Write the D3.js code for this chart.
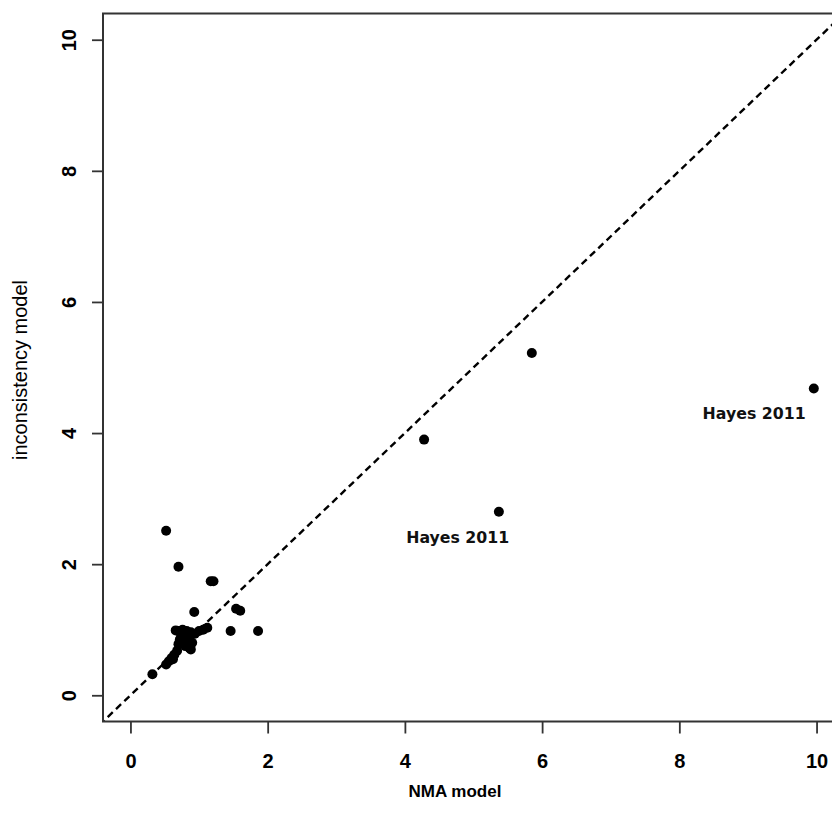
<!DOCTYPE html>
<html>
<head>
<meta charset="utf-8">
<script src="https://cdn.jsdelivr.net/npm/d3@7"></script>
<style>
  html, body { margin: 0; padding: 0; background: #fff; }
  svg { display: block; }
</style>
</head>
<body>
<svg id="chart" width="832" height="821"></svg>
<script>
// Study-level estimates: NMA model (x) vs inconsistency model (y)
const nmaEstimate = [
  0.32, 0.52, 0.56, 0.60, 0.64, 0.68, 0.70, 0.72, 0.76, 0.80,
  0.86, 0.88, 0.78, 0.70, 0.76, 0.82, 0.88, 0.94, 1.00, 1.06,
  1.12, 0.74, 0.84, 0.80, 0.90, 0.84, 0.66, 0.62,
  0.93, 1.17, 1.21, 1.54, 1.60, 1.46, 1.86, 0.52, 0.70,
  4.28, 5.85, 5.37, 9.96
];
const inconsistencyEstimate = [
  0.32, 0.47, 0.52, 0.57, 0.62, 0.68, 0.78, 0.85, 0.82, 0.75,
  0.72, 0.70, 0.90, 0.98, 1.00, 0.98, 0.96, 0.94, 0.98, 1.00,
  1.03, 0.92, 0.86, 0.80, 0.80, 0.76, 0.99, 0.55,
  1.27, 1.74, 1.74, 1.32, 1.29, 0.98, 0.98, 2.51, 1.96,
  3.90, 5.22, 2.80, 4.68
];

// Annotations for the outlying studies
const labelText = ["Hayes 2011", "Hayes 2011"];
const labelX = [4.77, 9.09];
const labelY = [2.32, 4.21];

const xTicks = [0, 2, 4, 6, 8, 10];
const yTicks = [0, 2, 4, 6, 8, 10];
const axisRange = [-0.4, 10.4];

const svg = d3.select("#chart");
svg.append("rect").attr("width", 832).attr("height", 821).attr("fill", "#fff");

const x = d3.scaleLinear().domain(axisRange).range([103, 844]);
const y = d3.scaleLinear().domain(axisRange).range([721.5, 13.5]);

const boxX = x(axisRange[0]), boxY = y(axisRange[1]);
const boxW = x(axisRange[1]) - boxX, boxH = y(axisRange[0]) - boxY;

svg.append("defs").append("clipPath").attr("id", "plotClip")
  .append("rect").attr("x", boxX).attr("y", boxY).attr("width", boxW).attr("height", boxH);

// Line of equality
svg.append("g").attr("clip-path", "url(#plotClip)")
  .append("line")
  .attr("x1", x(axisRange[0])).attr("y1", y(axisRange[0]))
  .attr("x2", x(axisRange[1])).attr("y2", y(axisRange[1]))
  .attr("stroke", "#000").attr("stroke-width", 2.4)
  .attr("stroke-dasharray", "7,4.5")
  .attr("stroke-dashoffset", 5);

// Points
svg.append("g").selectAll("circle")
  .data(nmaEstimate.map((v, i) => [v, inconsistencyEstimate[i]]))
  .join("circle")
  .attr("cx", d => x(d[0])).attr("cy", d => y(d[1]))
  .attr("r", 5).attr("fill", "#000");

// Study labels
svg.append("g").selectAll("text")
  .data(labelText.map((t, i) => ({ t, x: labelX[i], y: labelY[i] })))
  .join("text")
  .attr("x", d => x(d.x)).attr("y", d => y(d.y))
  .attr("text-anchor", "middle")
  .attr("font-family", "'DejaVu Sans', Verdana, sans-serif")
  .attr("font-weight", "bold").attr("font-size", 16)
  .attr("textLength", 103).attr("lengthAdjust", "spacingAndGlyphs")
  .attr("fill", "#111")
  .text(d => d.t);

// Plot frame
svg.append("rect")
  .attr("x", boxX).attr("y", boxY).attr("width", boxW).attr("height", boxH)
  .attr("fill", "none").attr("stroke", "#333").attr("stroke-width", 2);

const tickFont = "'Liberation Sans', Arial, sans-serif";

// X axis
const gx = svg.append("g").attr("transform", `translate(0,${boxY + boxH})`)
  .call(d3.axisBottom(x).tickValues(xTicks).tickSize(12).tickPadding(20).tickFormat(d3.format("d")));
gx.select(".domain").remove();
gx.selectAll(".tick line").attr("stroke", "#333").attr("stroke-width", 1.8);
gx.selectAll(".tick text")
  .attr("font-family", tickFont).attr("font-weight", "bold").attr("font-size", 20).attr("fill", "#000");

// Y axis, labels parallel to the axis
const gy = svg.append("g").attr("transform", `translate(${boxX},0)`)
  .call(d3.axisLeft(y).tickValues(yTicks).tickSize(11).tickFormat(d3.format("d")));
gy.select(".domain").remove();
gy.selectAll(".tick line").attr("stroke", "#333").attr("stroke-width", 1.8);
gy.selectAll(".tick text")
  .attr("transform", "rotate(-90)")
  .attr("x", 0).attr("y", -27).attr("dy", 0)
  .attr("text-anchor", "middle")
  .attr("font-family", tickFont).attr("font-weight", "bold").attr("font-size", 20).attr("fill", "#000");

// Axis titles
svg.append("text")
  .attr("x", 455).attr("y", 797)
  .attr("text-anchor", "middle")
  .attr("font-family", tickFont).attr("font-weight", "bold").attr("font-size", 17)
  .attr("fill", "#000")
  .text("NMA model");

svg.append("text")
  .attr("transform", "translate(27,370) rotate(-90)")
  .attr("text-anchor", "middle")
  .attr("font-family", tickFont).attr("font-size", 20)
  .attr("fill", "#000")
  .text("inconsistency model");
</script>
</body>
</html>
